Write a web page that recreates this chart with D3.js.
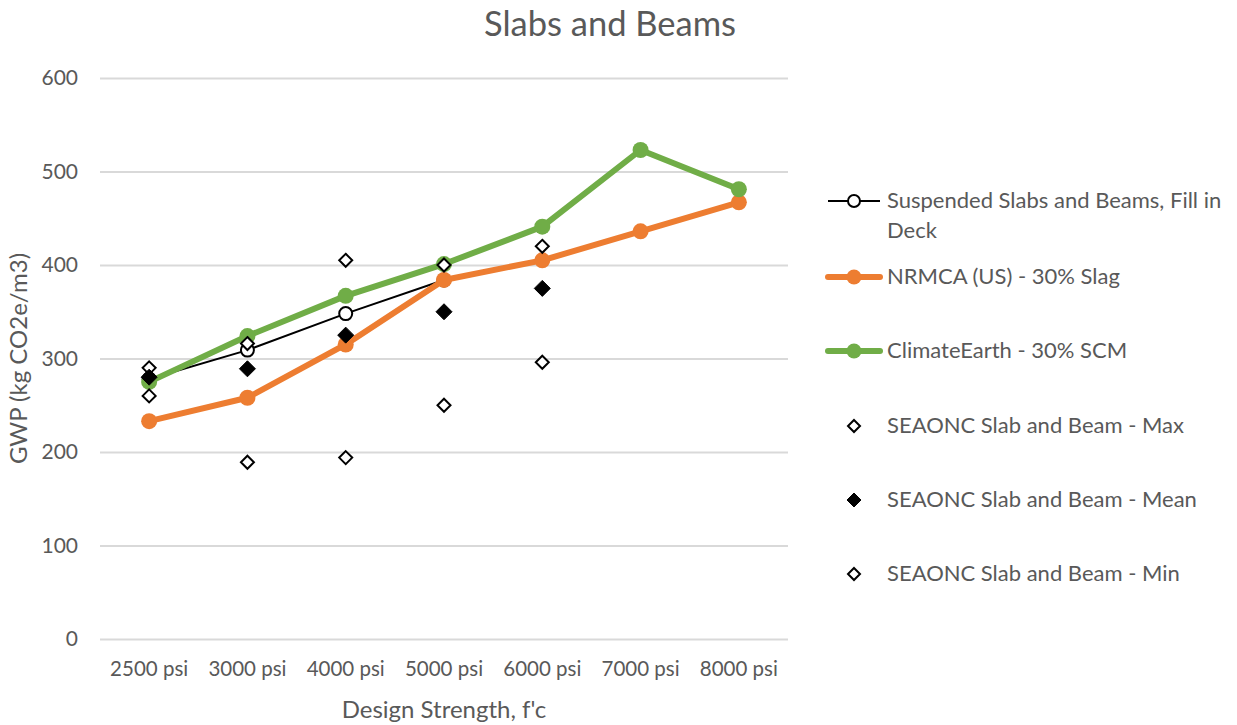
<!DOCTYPE html>
<html><head><meta charset="utf-8">
<script src="https://cdn.jsdelivr.net/npm/d3@7"></script>
<style>
html,body{margin:0;padding:0;background:#fff;}
svg text{font-family:Lato, "Open Sans", sans-serif;fill:#595959;}
</style></head>
<body>
<svg id="chart" width="1237" height="725"></svg>
<script>
const categories = ["2500 psi","3000 psi","4000 psi","5000 psi","6000 psi","7000 psi","8000 psi"];
const suspended = [278, 309, 348, 384, null, null, null];
const nrmca = [233, 258, 315, 384, 405, 436, 467];
const climate = [275, 324, 367, 401, 441, 523, 481];
const seaMax = [290, 316, 405, 400, 420, null, null];
const seaMean = [280, 289, 325, 350, 375, null, null];
const seaMin = [260, 189, 194, 250, 296, null, null];
const yTicks = [0, 100, 200, 300, 400, 500, 600];
const seriesNames = ["Suspended Slabs and Beams, Fill in Deck", "NRMCA (US) - 30% Slag", "ClimateEarth - 30% SCM",
  "SEAONC Slab and Beam - Max", "SEAONC Slab and Beam - Mean", "SEAONC Slab and Beam - Min"];

const svg = d3.select("#chart");
const L = 100, R = 788, T = 78, B = 639;
const x = d3.scaleBand().domain(categories).range([L, R]);
const xc = c => x(c) + x.bandwidth() / 2;
const y = d3.scaleLinear().domain([0, 600]).range([B, T]);

// title
svg.append("text").attr("x", 610).attr("y", 36).attr("text-anchor", "middle")
  .style("font-size", "34.5px").text("Slabs and Beams");

// y axis with gridlines
const yAxis = svg.append("g").attr("transform", `translate(${L},0)`)
  .call(d3.axisLeft(y).tickValues(yTicks).tickSize(-(R - L)).tickPadding(22));
yAxis.select(".domain").remove();
yAxis.selectAll(".tick line").attr("stroke", "#d9d9d9").attr("stroke-width", 2);
yAxis.selectAll(".tick text").style("font-size", "21px").attr("fill", "#595959");

// x axis
const xAxis = svg.append("g").attr("transform", `translate(0,${B})`)
  .call(d3.axisBottom(x).tickSize(0).tickPadding(22));
xAxis.select(".domain").remove();
xAxis.selectAll(".tick text").style("font-size", "20.5px").attr("fill", "#595959");

// axis titles
svg.append("text").attr("x", 444).attr("y", 718).attr("text-anchor", "middle")
  .style("font-size", "24px").text("Design Strength, f'c");
svg.append("text").attr("transform", `translate(27,${(T + B) / 2}) rotate(-90)`).attr("text-anchor", "middle")
  .style("font-size", "24px").text("GWP (kg CO2e/m3)");

function pts(arr) {
  return arr.map((v, i) => ({ c: categories[i], v })).filter(d => d.v !== null);
}
const line = d3.line().x(d => xc(d.c)).y(d => y(d.v));
const diamond = (cx, cy, r) => `M${cx},${cy - r}L${cx + r},${cy}L${cx},${cy + r}L${cx - r},${cy}Z`;

// suspended series
svg.append("path").datum(pts(suspended)).attr("d", line).attr("fill", "none")
  .attr("stroke", "#000").attr("stroke-width", 2);
svg.append("g").selectAll("circle").data(pts(suspended)).join("circle")
  .attr("cx", d => xc(d.c)).attr("cy", d => y(d.v)).attr("r", 6.5)
  .attr("fill", "#fff").attr("stroke", "#000").attr("stroke-width", 2);

// NRMCA
svg.append("path").datum(pts(nrmca)).attr("d", line).attr("fill", "none")
  .attr("stroke", "#ED7D31").attr("stroke-width", 6).attr("stroke-linejoin", "round");
svg.append("g").selectAll("circle").data(pts(nrmca)).join("circle")
  .attr("cx", d => xc(d.c)).attr("cy", d => y(d.v)).attr("r", 8).attr("fill", "#ED7D31");

// ClimateEarth
svg.append("path").datum(pts(climate)).attr("d", line).attr("fill", "none")
  .attr("stroke", "#70AD47").attr("stroke-width", 6).attr("stroke-linejoin", "round");
svg.append("g").selectAll("circle").data(pts(climate)).join("circle")
  .attr("cx", d => xc(d.c)).attr("cy", d => y(d.v)).attr("r", 8).attr("fill", "#70AD47");

// SEAONC
function diamonds(arr, r, filled) {
  svg.append("g").selectAll("path").data(pts(arr)).join("path")
    .attr("d", d => diamond(xc(d.c), y(d.v), r))
    .attr("fill", filled ? "#000" : "#fff").attr("stroke", "#000").attr("stroke-width", filled ? 1 : 2);
}
diamonds(seaMax, 6.5, false);
diamonds(seaMean, 8, true);
diamonds(seaMin, 6.5, false);

// legend
const lx0 = 828, lx1 = 880, tx = 887;
const lg = svg.append("g");
const fs = "22px";
// item 1
lg.append("line").attr("x1", lx0).attr("x2", lx1).attr("y1", 201).attr("y2", 201).attr("stroke", "#000").attr("stroke-width", 2);
lg.append("circle").attr("cx", (lx0 + lx1) / 2).attr("cy", 201).attr("r", 6).attr("fill", "#fff").attr("stroke", "#000").attr("stroke-width", 2);
const t1 = lg.append("text").attr("x", tx).attr("y", 208).style("font-size", fs);
t1.append("tspan").attr("x", tx).attr("y", 208).text("Suspended Slabs and Beams, Fill in");
t1.append("tspan").attr("x", tx).attr("y", 238).text("Deck");
// item 2
lg.append("line").attr("x1", lx0).attr("x2", lx1).attr("y1", 277).attr("y2", 277).attr("stroke", "#ED7D31").attr("stroke-width", 6).attr("stroke-linecap", "round");
lg.append("circle").attr("cx", (lx0 + lx1) / 2).attr("cy", 277).attr("r", 7.5).attr("fill", "#ED7D31");
lg.append("text").attr("x", tx).attr("y", 284).style("font-size", fs).text(seriesNames[1]);
// item 3
lg.append("line").attr("x1", lx0).attr("x2", lx1).attr("y1", 351).attr("y2", 351).attr("stroke", "#70AD47").attr("stroke-width", 6).attr("stroke-linecap", "round");
lg.append("circle").attr("cx", (lx0 + lx1) / 2).attr("cy", 351).attr("r", 7.5).attr("fill", "#70AD47");
lg.append("text").attr("x", tx).attr("y", 358).style("font-size", fs).text(seriesNames[2]);
// items 4-6
[[seriesNames[3], 426, false, 6], [seriesNames[4], 500, true, 7], [seriesNames[5], 574, false, 6]].forEach(([name, yy, filled, r]) => {
  lg.append("path").attr("d", diamond((lx0 + lx1) / 2, yy, r))
    .attr("fill", filled ? "#000" : "#fff").attr("stroke", "#000").attr("stroke-width", filled ? 1 : 2);
  lg.append("text").attr("x", tx).attr("y", yy + 7).style("font-size", fs).text(name);
});
</script>
</body></html>
